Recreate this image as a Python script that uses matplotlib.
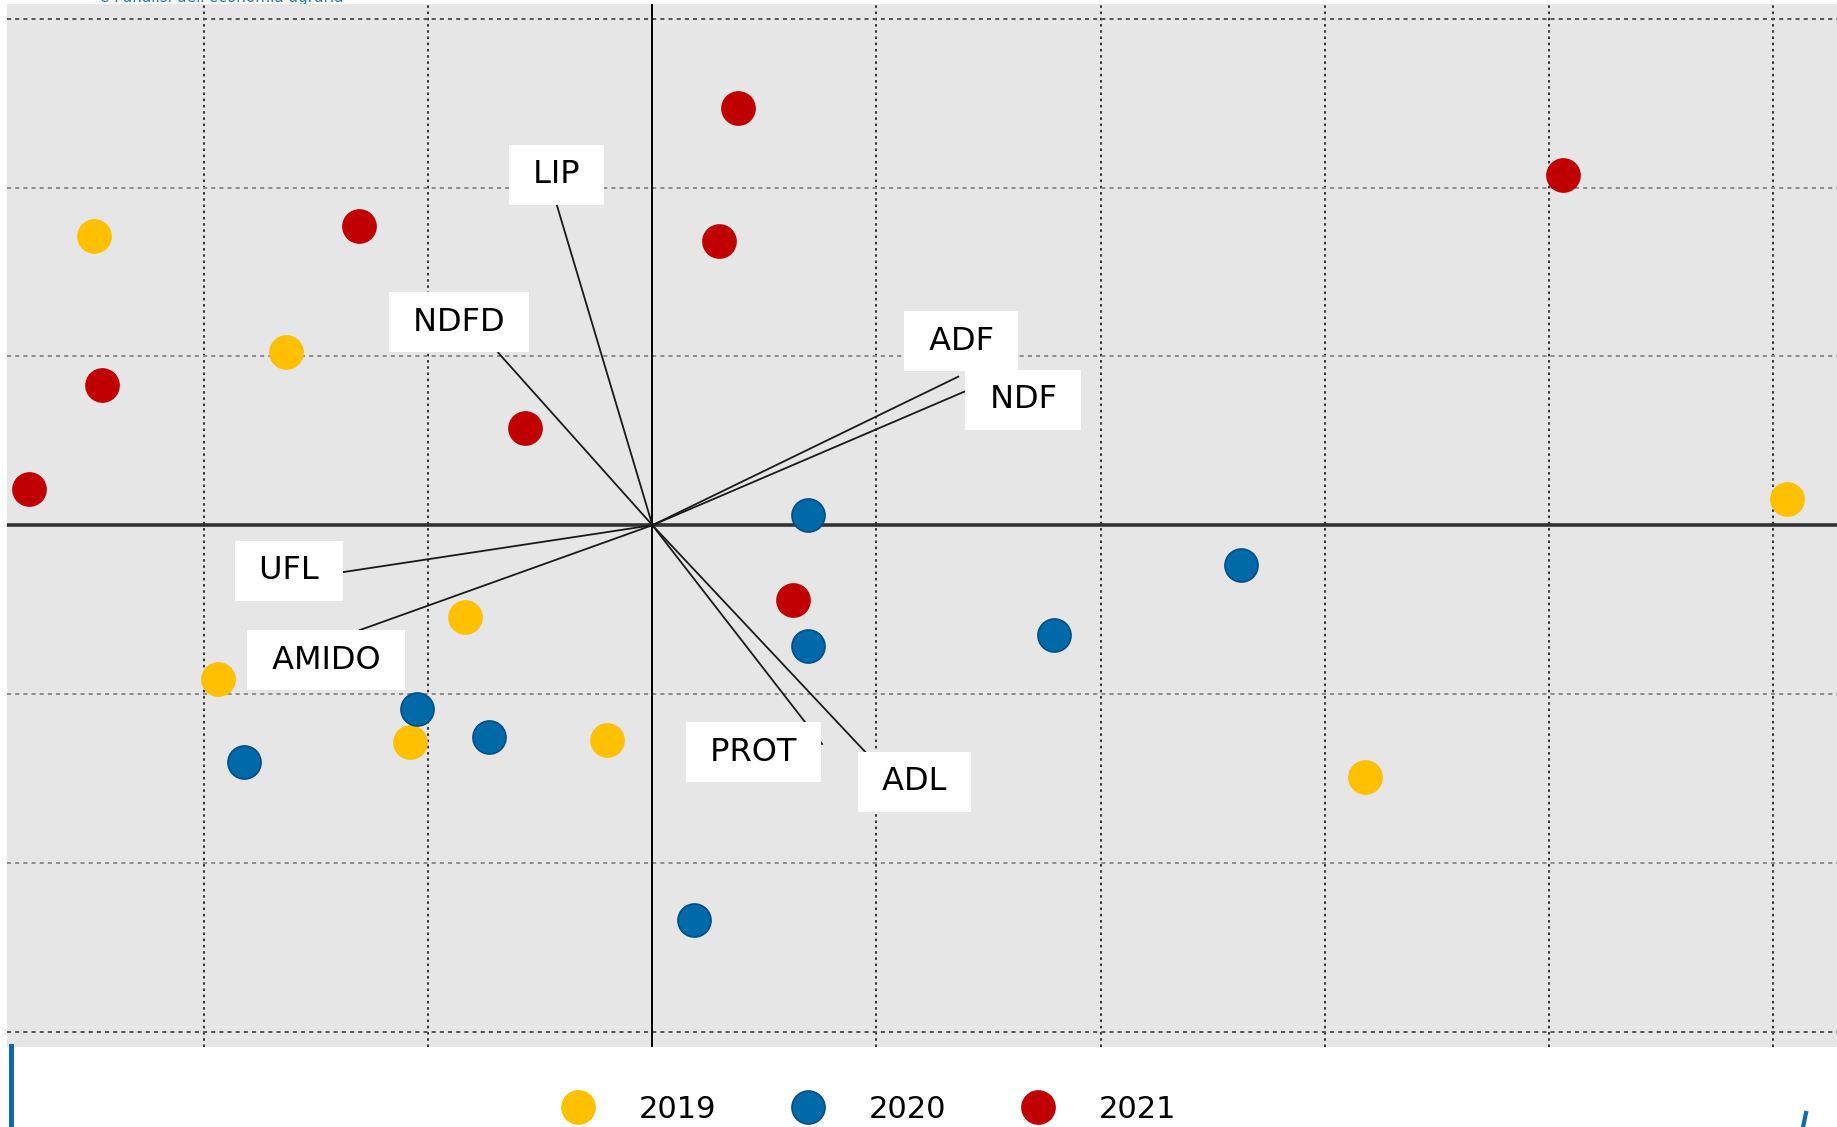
import matplotlib
matplotlib.use("Agg")
import matplotlib.pyplot as plt
from matplotlib.lines import Line2D

# scores of the samples on the two components, one list per year
x_2019 = [-2.492, -1.635, -0.835, -1.938, -1.081, -0.203, 3.179, 5.062]
y_2019 = [1.716, 1.029, -0.546, -0.914, -1.282, -1.275, -1.490, 0.155]

x_2020 = [0.696, 2.625, 1.794, 0.696, -1.050, -0.730, -1.823, 0.184]
y_2020 = [0.058, -0.234, -0.650, -0.713, -1.087, -1.254, -1.405, -2.336]

x_2021 = [0.383, 4.064, -1.311, 0.299, -2.456, -0.569, -2.780, 0.628]
y_2021 = [2.473, 2.077, 1.772, 1.681, 0.829, 0.578, 0.217, -0.442]

# loadings (end of each vector)
variables = ["LIP", "NDFD", "ADF", "NDF", "UFL", "AMIDO", "PROT", "ADL"]
load_x = [-0.427, -0.688, 1.365, 1.402, -1.386, -1.305, 0.757, 0.949]
load_y = [1.899, 1.022, 0.880, 0.797, -0.279, -0.621, -1.296, -1.342]

# where the label boxes sit
label_x = [-0.428, -0.864, 1.378, 1.655, -1.622, -1.457, 0.452, 1.168]
label_y = [2.075, 1.203, 1.091, 0.742, -0.271, -0.799, -1.344, -1.521]

years = ["2019", "2020", "2021"]
colors = ["#FFC000", "#006AA8", "#C00000"]
edges = ["#FFC000", "#00508A", "#C00000"]

fig = plt.figure(figsize=(18.37, 11.27), dpi=100)
ax = fig.add_axes([0.0038, 0.0713, 0.9962, 0.9252])
ax.set_facecolor("#E6E6E6")
ax.set_xlim(-2.880, 5.286)
ax.set_ylim(-3.089, 3.088)
for s in ax.spines.values():
    s.set_visible(False)
ax.set_xticks([])
ax.set_yticks([])

# grid
for gx in [-2, -1, 1, 2, 3, 4, 5]:
    ax.axvline(gx, color="#333333", lw=1.4, ls=(0, (1.3, 1.9)), zorder=1)
for gy in [-2, -1, 1, 2]:
    ax.axhline(gy, color="#8C8C8C", lw=1.4, ls=(0, (2.1, 2.1)), zorder=1)
for gy in [-3, 3]:
    ax.axhline(gy, color="#555555", lw=1.4, ls=(0, (2.1, 2.1)), zorder=1)

# axes through the origin
ax.axhline(0, color="#333333", lw=2.6, zorder=2)
ax.axvline(0, color="black", lw=1.4, zorder=2)

# loading vectors
for lx, ly in zip(load_x, load_y):
    ax.plot([0, lx], [0, ly], color="#1A1A1A", lw=1.3, zorder=3)

# samples
xs = [x_2019, x_2020, x_2021]
ys = [y_2019, y_2020, y_2021]
handles = []
for xv, yv, c, e, lab in zip(xs, ys, colors, edges, years):
    h, = ax.plot(xv, yv, ls="none", marker="o", ms=23.7, mfc=c, mec=e,
                 mew=1.3, zorder=4, label=lab)
    handles.append(h)

# variable labels
for name, tx, ty in zip(variables, label_x, label_y):
    ax.text(tx, ty, " " + name + " ", ha="center", va="center", fontsize=23,
            color="black", zorder=6,
            bbox=dict(boxstyle="square,pad=0.45", fc="white", ec="none"))

fig.legend(handles=handles, loc="center", bbox_to_anchor=(0.4733, 0.0155),
           ncol=3, frameon=False, fontsize=22, handlelength=1.0,
           handletextpad=1.49, columnspacing=2.51, numpoints=1)

# bits of the slide template around the chart
fig.text(0.0544, 0.998, "e l'analisi dell'economia agraria", fontsize=11,
         color="#2A7AB0", zorder=-1)
fig.add_artist(Line2D([11 / 1837, 11 / 1837], [0, 1 - 1046 / 1127],
                      color="#0F69AA", lw=3.6, transform=fig.transFigure))
fig.add_artist(Line2D([1803 / 1837, 1806 / 1837], [0, 1 - 1113 / 1127],
                      color="#0F69AA", lw=3.0, transform=fig.transFigure))

fig.savefig("out.png", dpi=100)
